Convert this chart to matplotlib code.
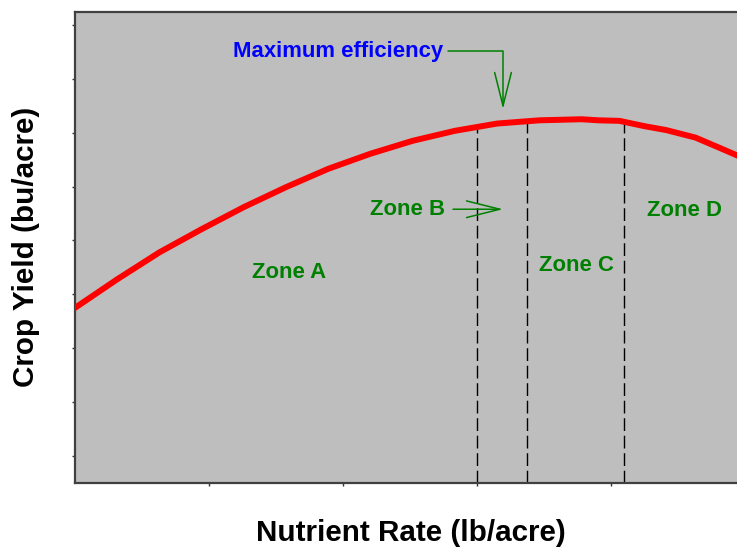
import numpy as np
import matplotlib
matplotlib.use("Agg")
import matplotlib.pyplot as plt

# response curve (x in rate units, y in yield units)
rate = [0.0, 0.315, 0.63, 0.945, 1.26, 1.575, 1.89, 2.205, 2.52, 2.835,
        3.15, 3.465, 3.78, 3.906, 4.063, 4.253, 4.41, 4.63, 4.819, 4.94, 5.0]
yield_ = [2.75, 3.28, 3.78, 4.21, 4.62, 4.99, 5.33, 5.61, 5.85, 6.035,
          6.17, 6.23, 6.25, 6.23, 6.22, 6.12, 6.05, 5.91, 5.71, 5.58, 5.52]

# zone boundaries
bounds = [3.0, 3.37, 4.10]

zone_names = ["Zone A", "Zone B", "Zone C", "Zone D"]
zone_x = [1.60, 2.485, 3.74, 4.55]
zone_y = [3.40, 4.58, 3.54, 4.56]

plt.rcParams['font.family'] = ['Liberation Sans', 'DejaVu Sans']

fig = plt.figure(figsize=(7.37, 5.47), dpi=100)
ax = fig.add_axes([75/737, 1-483/547, 670/737, 471/547])
ax.set_facecolor('#bebebe')

ax.plot(rate, yield_, color='red', lw=4.3, solid_capstyle='round',
        solid_joinstyle='round', zorder=3)

# dashed zone lines up to the curve
for b in bounds:
    top = np.interp(b, rate, yield_)
    ax.plot([b, b], [-0.5, top], color='black', lw=1.0,
            dashes=(9.2, 3.4), zorder=2)

for name, zx, zy in zip(zone_names, zone_x, zone_y):
    ax.text(zx, zy, name, color='#008000', fontsize=15.9, fontweight='bold',
            ha='center', va='center')

ax.text(1.96, 7.51, "Maximum efficiency", color='#0000ff', fontsize=15.9,
        fontweight='bold', ha='center', va='center')

arrow = dict(arrowstyle='->,head_length=24,head_width=6', color='#008000',
             lw=1.1, mutation_scale=1, shrinkA=0, shrinkB=0)
ax.annotate('', xy=(3.194, 6.44), xytext=(2.784, 7.51),
            arrowprops=dict(arrow, connectionstyle='angle,angleA=0,angleB=90,rad=0'))
ax.annotate('', xy=(3.194, 4.58), xytext=(2.821, 4.58), arrowprops=arrow)

ax.set_xlim(0, 5)
ax.set_ylim(-0.5, 8.24)
ax.set_xticks([1, 2, 3, 4])
ax.set_yticks(range(0, 9))
ax.set_xticklabels([])
ax.set_yticklabels([])
ax.tick_params(direction='out', length=2, width=1, color='#333333')
for side in ['left', 'bottom', 'top']:
    ax.spines[side].set_color('#404040')
    ax.spines[side].set_linewidth(1.6)
ax.spines['right'].set_visible(False)

fig.text(411/737, 1-533/547, "Nutrient Rate (lb/acre)", fontsize=21.3,
         fontweight='bold', ha='center', va='center')
fig.text(26/737, 1-247/547, "Crop Yield (bu/acre)", fontsize=21.3,
         fontweight='bold', ha='center', va='center', rotation=90)

fig.savefig("out.png", dpi=100)
